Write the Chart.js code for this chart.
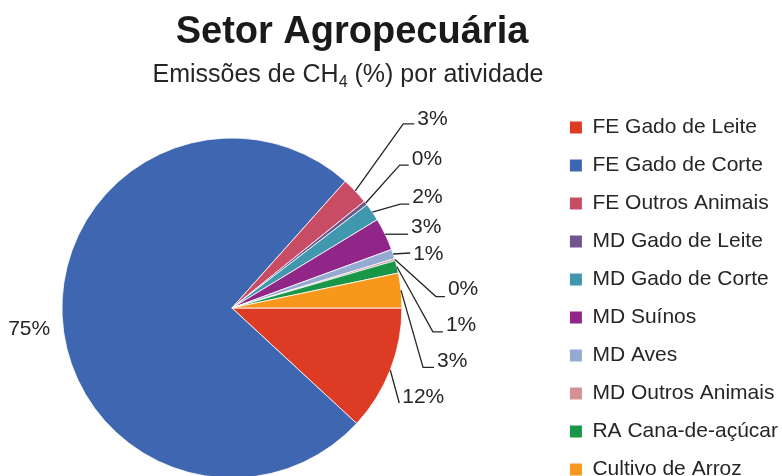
<!DOCTYPE html>
<html>
<head>
<meta charset="utf-8">
<script src="https://cdn.jsdelivr.net/npm/chart.js@4"></script>
<style>
  html, body { margin: 0; padding: 0; background: #fff; overflow: hidden; }
  #chart { display: block; margin-left: -89px; }
</style>
</head>
<body>
<canvas id="chart" width="871" height="516"></canvas>
<script>
// emissões de CH4 por atividade (%)
const activities = [
    'FE Gado de Leite',
    'FE Gado de Corte',
    'FE Outros Animais',
    'MD Gado de Leite',
    'MD Gado de Corte',
    'MD Suínos',
    'MD Aves',
    'MD Outros Animais',
    'RA Cana-de-açúcar',
    'Cultivo de Arroz'
];
const shares = [11.9, 74.8, 2.6, 0.4, 1.7, 3.1, 0.9, 0.2, 1.2, 3.3];

const colors = [
    '#de3b25', '#3f67b1', '#c84c63', '#71568e', '#3f98ae',
    '#912689', '#94aad3', '#d49392', '#1a9648', '#f7981d'
];

// label placement relative to the slice edge: [dx, dy, lineDy, elbow]
const labelPlace = [
    [12, 27, 6, 0],
    [-54, 13, null, 0],
    [62, -72, 5, 11],
    [46, -44, 6, 9],
    [40, -15, 7, 9],
    [26, -7, 7, 0],
    [20, 0, -1, 0],
    [53, 30, 7, 9],
    [49, 58, 7, 10],
    [36, 71, 6, 11]
];

const FONT = '"Liberation Sans", Arial, sans-serif';
const SHIFT = 89; // canvas is moved left by this much

const titlePlugin = {
    id: 'titles',
    afterDraw(chart) {
        const ctx = chart.ctx;
        ctx.save();
        ctx.fillStyle = '#1a1a1a';
        ctx.textAlign = 'center';
        ctx.textBaseline = 'alphabetic';
        ctx.font = 'bold 38px ' + FONT;
        ctx.fillText('Setor Agropecuária', 352 + SHIFT, 43);

        // subtitle with subscript
        ctx.fillStyle = '#262626';
        const a = 'Emissões de CH', sub = '4', b = ' (%) por atividade';
        ctx.font = '25px ' + FONT;
        const wa = ctx.measureText(a).width, wb = ctx.measureText(b).width;
        ctx.font = '16px ' + FONT;
        const ws = ctx.measureText(sub).width;
        let x = 348 + SHIFT - (wa + ws + wb) / 2;
        ctx.textAlign = 'left';
        ctx.font = '25px ' + FONT;
        ctx.fillText(a, x, 82);
        x += wa;
        ctx.font = '16px ' + FONT;
        ctx.fillText(sub, x, 87);
        x += ws;
        ctx.font = '25px ' + FONT;
        ctx.fillText(b, x, 82);
        ctx.restore();
    }
};

const labelPlugin = {
    id: 'sliceLabels',
    afterDatasetsDraw(chart) {
        const ctx = chart.ctx;
        const meta = chart.getDatasetMeta(0);
        const total = shares.reduce((s, v) => s + v, 0);
        ctx.save();
        ctx.font = '21px ' + FONT;
        ctx.fillStyle = '#262626';
        ctx.strokeStyle = '#262626';
        ctx.lineWidth = 1.3;
        ctx.textBaseline = 'middle';
        meta.data.forEach((arc, i) => {
            const p = arc.getProps(['x', 'y', 'startAngle', 'endAngle', 'outerRadius'], true);
            const mid = (p.startAngle + p.endAngle) / 2;
            const ax = p.x + Math.cos(mid) * p.outerRadius;
            const ay = p.y + Math.sin(mid) * p.outerRadius;
            const [dx, dy, ly, h] = labelPlace[i];
            const tx = ax + dx, ty = ay + dy;
            if (ly !== null) {
                ctx.beginPath();
                ctx.moveTo(ax, ay);
                ctx.lineTo(tx - 3 - h, ty + ly);
                ctx.lineTo(tx - 3, ty + ly);
                ctx.stroke();
            }
            ctx.fillText(Math.round(shares[i] / total * 100) + '%', tx, ty);
        });
        ctx.restore();
    }
};

const baseLabels = Chart.overrides.doughnut.plugins.legend.labels.generateLabels;

const data = {
    labels: activities,
    datasets: [{
        data: shares,
        backgroundColor: colors,
        borderColor: '#ffffff',
        borderWidth: 0.8,
        radius: 170
    }]
};

const config = {
    type: 'pie',
    data: data,
    options: {
        responsive: false,
        animation: false,
        events: [],
        rotation: 90,
        layout: {
            padding: { top: 100, left: 0, right: -6, bottom: 0 }
        },
        plugins: {
            title: { display: false },
            tooltip: { enabled: false },
            legend: {
                position: 'right',
                align: 'start',
                labels: {
                    boxWidth: 12,
                    boxHeight: 12,
                    padding: 17,
                    color: '#262626',
                    font: { family: FONT, size: 21 },
                    generateLabels: (chart) => baseLabels(chart).map(l => ({ ...l, lineWidth: 0 }))
                }
            }
        }
    },
    plugins: [titlePlugin, labelPlugin]
};

let myChart = new Chart(document.getElementById('chart'), config);
</script>
</body>
</html>
